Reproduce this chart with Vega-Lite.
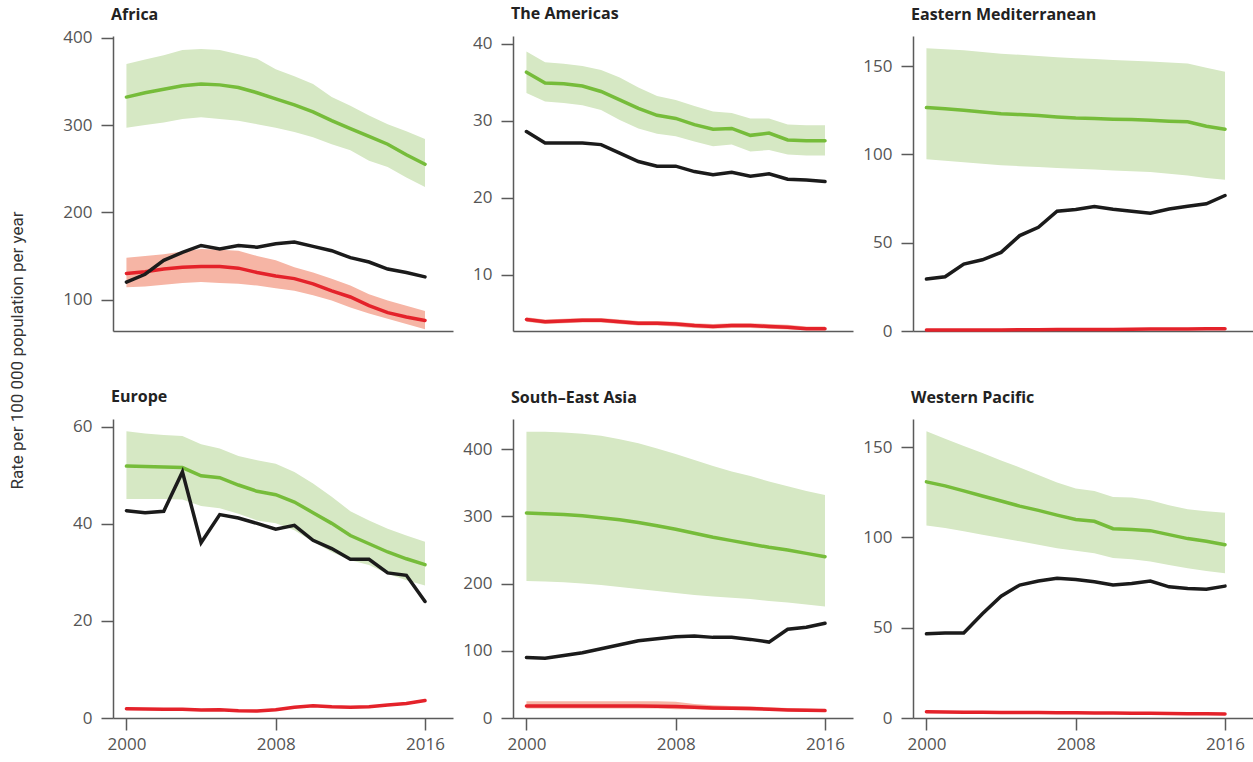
{
  "$schema": "https://vega.github.io/schema/vega-lite/v6.json",
  "padding": {"left": 8, "top": 5, "right": 0, "bottom": 6},
  "background": "white",
  "data": {"values": [
    {"region":"Africa","year":2000,"g":332,"glo":297,"ghi":370,"b":120,"r":130,"rlo":114,"rhi":148},
    {"region":"Africa","year":2001,"g":337,"glo":300,"ghi":375,"b":129,"r":132,"rlo":115,"rhi":150},
    {"region":"Africa","year":2002,"g":341,"glo":303,"ghi":380,"b":145,"r":135,"rlo":117,"rhi":152},
    {"region":"Africa","year":2003,"g":345,"glo":307,"ghi":386,"b":154,"r":137,"rlo":119,"rhi":155},
    {"region":"Africa","year":2004,"g":347,"glo":309,"ghi":387,"b":162,"r":138,"rlo":120,"rhi":158},
    {"region":"Africa","year":2005,"g":346,"glo":307,"ghi":386,"b":158,"r":138,"rlo":119,"rhi":157},
    {"region":"Africa","year":2006,"g":343,"glo":305,"ghi":381,"b":162,"r":136,"rlo":118,"rhi":156},
    {"region":"Africa","year":2007,"g":337,"glo":301,"ghi":376,"b":160,"r":131,"rlo":116,"rhi":150},
    {"region":"Africa","year":2008,"g":330,"glo":297,"ghi":364,"b":164,"r":127,"rlo":113,"rhi":145},
    {"region":"Africa","year":2009,"g":323,"glo":292,"ghi":356,"b":166,"r":124,"rlo":110,"rhi":137},
    {"region":"Africa","year":2010,"g":315,"glo":286,"ghi":347,"b":161,"r":118,"rlo":105,"rhi":131},
    {"region":"Africa","year":2011,"g":305,"glo":278,"ghi":332,"b":156,"r":110,"rlo":99,"rhi":124},
    {"region":"Africa","year":2012,"g":296,"glo":271,"ghi":322,"b":148,"r":103,"rlo":91,"rhi":116},
    {"region":"Africa","year":2013,"g":287,"glo":259,"ghi":311,"b":143,"r":93,"rlo":84,"rhi":106},
    {"region":"Africa","year":2014,"g":278,"glo":252,"ghi":301,"b":135,"r":85,"rlo":78,"rhi":99},
    {"region":"Africa","year":2015,"g":266,"glo":240,"ghi":293,"b":131,"r":80,"rlo":72,"rhi":93},
    {"region":"Africa","year":2016,"g":255,"glo":229,"ghi":284,"b":126,"r":76,"rlo":66,"rhi":87},

    {"region":"The Americas","year":2000,"g":36.3,"glo":33.6,"ghi":39.0,"b":28.6,"r":4.2,"rlo":3.9,"rhi":4.5},
    {"region":"The Americas","year":2001,"g":34.9,"glo":32.5,"ghi":37.6,"b":27.1,"r":3.9,"rlo":3.6,"rhi":4.2},
    {"region":"The Americas","year":2002,"g":34.8,"glo":32.3,"ghi":37.4,"b":27.1,"r":4.0,"rlo":3.7,"rhi":4.3},
    {"region":"The Americas","year":2003,"g":34.5,"glo":32.0,"ghi":37.1,"b":27.1,"r":4.1,"rlo":3.8,"rhi":4.4},
    {"region":"The Americas","year":2004,"g":33.8,"glo":31.4,"ghi":36.6,"b":26.9,"r":4.1,"rlo":3.8,"rhi":4.4},
    {"region":"The Americas","year":2005,"g":32.7,"glo":30.1,"ghi":35.6,"b":25.8,"r":3.9,"rlo":3.6,"rhi":4.2},
    {"region":"The Americas","year":2006,"g":31.6,"glo":29.0,"ghi":34.3,"b":24.7,"r":3.7,"rlo":3.4,"rhi":4.0},
    {"region":"The Americas","year":2007,"g":30.7,"glo":28.3,"ghi":33.2,"b":24.1,"r":3.7,"rlo":3.4,"rhi":4.0},
    {"region":"The Americas","year":2008,"g":30.3,"glo":28.0,"ghi":32.7,"b":24.1,"r":3.6,"rlo":3.3,"rhi":3.9},
    {"region":"The Americas","year":2009,"g":29.5,"glo":27.3,"ghi":31.9,"b":23.4,"r":3.4,"rlo":3.1,"rhi":3.7},
    {"region":"The Americas","year":2010,"g":28.9,"glo":26.7,"ghi":31.2,"b":23.0,"r":3.3,"rlo":3.0,"rhi":3.6},
    {"region":"The Americas","year":2011,"g":29.0,"glo":26.9,"ghi":31.0,"b":23.3,"r":3.4,"rlo":3.1,"rhi":3.7},
    {"region":"The Americas","year":2012,"g":28.1,"glo":26.0,"ghi":30.3,"b":22.8,"r":3.4,"rlo":3.1,"rhi":3.7},
    {"region":"The Americas","year":2013,"g":28.4,"glo":26.2,"ghi":30.3,"b":23.1,"r":3.3,"rlo":3.0,"rhi":3.6},
    {"region":"The Americas","year":2014,"g":27.5,"glo":25.6,"ghi":29.5,"b":22.4,"r":3.2,"rlo":2.9,"rhi":3.5},
    {"region":"The Americas","year":2015,"g":27.4,"glo":25.5,"ghi":29.4,"b":22.3,"r":3.0,"rlo":2.8,"rhi":3.3},
    {"region":"The Americas","year":2016,"g":27.4,"glo":25.5,"ghi":29.4,"b":22.1,"r":3.0,"rlo":2.8,"rhi":3.3},

    {"region":"Eastern Mediterranean","year":2000,"g":126.5,"glo":97.2,"ghi":160,"b":29.4,"r":0.5,"rlo":0.2,"rhi":0.8},
    {"region":"Eastern Mediterranean","year":2001,"g":125.8,"glo":96.4,"ghi":159.5,"b":30.7,"r":0.5,"rlo":0.2,"rhi":0.8},
    {"region":"Eastern Mediterranean","year":2002,"g":125,"glo":95.6,"ghi":159,"b":37.9,"r":0.5,"rlo":0.2,"rhi":0.8},
    {"region":"Eastern Mediterranean","year":2003,"g":124,"glo":94.7,"ghi":158,"b":40.3,"r":0.6,"rlo":0.3,"rhi":0.9},
    {"region":"Eastern Mediterranean","year":2004,"g":123,"glo":93.8,"ghi":157,"b":44.5,"r":0.6,"rlo":0.3,"rhi":0.9},
    {"region":"Eastern Mediterranean","year":2005,"g":122.5,"glo":93.3,"ghi":156.4,"b":54,"r":0.7,"rlo":0.4,"rhi":1.0},
    {"region":"Eastern Mediterranean","year":2006,"g":122,"glo":92.8,"ghi":155.7,"b":58.7,"r":0.7,"rlo":0.4,"rhi":1.0},
    {"region":"Eastern Mediterranean","year":2007,"g":121.2,"glo":92.3,"ghi":155,"b":67.8,"r":0.8,"rlo":0.5,"rhi":1.1},
    {"region":"Eastern Mediterranean","year":2008,"g":120.6,"glo":91.9,"ghi":154.4,"b":68.8,"r":0.8,"rlo":0.5,"rhi":1.1},
    {"region":"Eastern Mediterranean","year":2009,"g":120.3,"glo":91.4,"ghi":154,"b":70.5,"r":0.9,"rlo":0.6,"rhi":1.2},
    {"region":"Eastern Mediterranean","year":2010,"g":119.9,"glo":90.9,"ghi":153.4,"b":68.9,"r":0.9,"rlo":0.6,"rhi":1.2},
    {"region":"Eastern Mediterranean","year":2011,"g":119.7,"glo":90.5,"ghi":153,"b":67.8,"r":1.0,"rlo":0.7,"rhi":1.3},
    {"region":"Eastern Mediterranean","year":2012,"g":119.3,"glo":90,"ghi":152.5,"b":66.7,"r":1.1,"rlo":0.8,"rhi":1.4},
    {"region":"Eastern Mediterranean","year":2013,"g":118.8,"glo":89,"ghi":152,"b":69.1,"r":1.2,"rlo":0.9,"rhi":1.5},
    {"region":"Eastern Mediterranean","year":2014,"g":118.4,"glo":88,"ghi":151.5,"b":70.6,"r":1.2,"rlo":0.9,"rhi":1.5},
    {"region":"Eastern Mediterranean","year":2015,"g":115.9,"glo":86.6,"ghi":149,"b":72,"r":1.3,"rlo":1.0,"rhi":1.6},
    {"region":"Eastern Mediterranean","year":2016,"g":114.2,"glo":85.6,"ghi":146.8,"b":76.7,"r":1.3,"rlo":1.0,"rhi":1.6},

    {"region":"Europe","year":2000,"g":51.9,"glo":45.1,"ghi":59.1,"b":42.7,"r":1.9,"rlo":1.7,"rhi":2.1},
    {"region":"Europe","year":2001,"g":51.8,"glo":45.1,"ghi":58.6,"b":42.3,"r":1.85,"rlo":1.65,"rhi":2.05},
    {"region":"Europe","year":2002,"g":51.7,"glo":45.1,"ghi":58.3,"b":42.6,"r":1.8,"rlo":1.6,"rhi":2.0},
    {"region":"Europe","year":2003,"g":51.6,"glo":45.0,"ghi":58.1,"b":50.7,"r":1.8,"rlo":1.6,"rhi":2.0},
    {"region":"Europe","year":2004,"g":49.9,"glo":43.7,"ghi":56.4,"b":36.1,"r":1.65,"rlo":1.45,"rhi":1.85},
    {"region":"Europe","year":2005,"g":49.5,"glo":43.2,"ghi":55.5,"b":41.9,"r":1.7,"rlo":1.5,"rhi":1.9},
    {"region":"Europe","year":2006,"g":48.0,"glo":42.1,"ghi":54.0,"b":41.2,"r":1.5,"rlo":1.3,"rhi":1.7},
    {"region":"Europe","year":2007,"g":46.7,"glo":40.7,"ghi":53.1,"b":40.1,"r":1.45,"rlo":1.25,"rhi":1.65},
    {"region":"Europe","year":2008,"g":46.0,"glo":40.1,"ghi":52.4,"b":38.9,"r":1.7,"rlo":1.5,"rhi":1.9},
    {"region":"Europe","year":2009,"g":44.5,"glo":38.7,"ghi":50.7,"b":39.7,"r":2.2,"rlo":2.0,"rhi":2.4},
    {"region":"Europe","year":2010,"g":42.3,"glo":36.3,"ghi":48.3,"b":36.6,"r":2.5,"rlo":2.3,"rhi":2.7},
    {"region":"Europe","year":2011,"g":40.1,"glo":34.2,"ghi":45.6,"b":34.9,"r":2.3,"rlo":2.1,"rhi":2.5},
    {"region":"Europe","year":2012,"g":37.6,"glo":32.5,"ghi":42.6,"b":32.7,"r":2.2,"rlo":2.0,"rhi":2.4},
    {"region":"Europe","year":2013,"g":35.9,"glo":31.5,"ghi":40.7,"b":32.7,"r":2.3,"rlo":2.1,"rhi":2.5},
    {"region":"Europe","year":2014,"g":34.2,"glo":29.7,"ghi":39.0,"b":29.9,"r":2.7,"rlo":2.5,"rhi":2.9},
    {"region":"Europe","year":2015,"g":32.8,"glo":28.4,"ghi":37.6,"b":29.4,"r":3.0,"rlo":2.8,"rhi":3.2},
    {"region":"Europe","year":2016,"g":31.6,"glo":27.3,"ghi":36.3,"b":24.0,"r":3.6,"rlo":3.4,"rhi":3.8},

    {"region":"South–East Asia","year":2000,"g":305,"glo":204,"ghi":426,"b":90,"r":18,"rlo":14,"rhi":25},
    {"region":"South–East Asia","year":2001,"g":304,"glo":203,"ghi":426,"b":89,"r":18,"rlo":14,"rhi":25},
    {"region":"South–East Asia","year":2002,"g":303,"glo":202,"ghi":425,"b":93,"r":18,"rlo":14,"rhi":25},
    {"region":"South–East Asia","year":2003,"g":301,"glo":200,"ghi":423,"b":97,"r":18,"rlo":14,"rhi":25},
    {"region":"South–East Asia","year":2004,"g":298,"glo":198,"ghi":420,"b":103,"r":18,"rlo":14,"rhi":25},
    {"region":"South–East Asia","year":2005,"g":295,"glo":195,"ghi":415,"b":109,"r":18,"rlo":14,"rhi":25},
    {"region":"South–East Asia","year":2006,"g":291,"glo":192,"ghi":409,"b":115,"r":18,"rlo":14,"rhi":25},
    {"region":"South–East Asia","year":2007,"g":286,"glo":189,"ghi":401,"b":118,"r":17.5,"rlo":14,"rhi":25},
    {"region":"South–East Asia","year":2008,"g":281,"glo":186,"ghi":393,"b":121,"r":17,"rlo":13,"rhi":24},
    {"region":"South–East Asia","year":2009,"g":275,"glo":183,"ghi":384,"b":122,"r":16,"rlo":13,"rhi":21},
    {"region":"South–East Asia","year":2010,"g":269,"glo":181,"ghi":375,"b":120,"r":15,"rlo":12,"rhi":19},
    {"region":"South–East Asia","year":2011,"g":264,"glo":179,"ghi":367,"b":120,"r":14.5,"rlo":12,"rhi":18},
    {"region":"South–East Asia","year":2012,"g":259,"glo":177,"ghi":360,"b":117,"r":14,"rlo":11,"rhi":17},
    {"region":"South–East Asia","year":2013,"g":254,"glo":174,"ghi":352,"b":113,"r":13,"rlo":11,"rhi":16},
    {"region":"South–East Asia","year":2014,"g":250,"glo":172,"ghi":345,"b":132,"r":12,"rlo":10,"rhi":15},
    {"region":"South–East Asia","year":2015,"g":245,"glo":169,"ghi":338,"b":135,"r":11.5,"rlo":9,"rhi":14},
    {"region":"South–East Asia","year":2016,"g":240,"glo":166,"ghi":332,"b":141,"r":11,"rlo":9,"rhi":13},

    {"region":"Western Pacific","year":2000,"g":130.7,"glo":106.5,"ghi":158.7,"b":46.6,"r":3.4,"rlo":3.1,"rhi":3.7},
    {"region":"Western Pacific","year":2001,"g":128.5,"glo":105.2,"ghi":154.6,"b":47.1,"r":3.3,"rlo":3.0,"rhi":3.6},
    {"region":"Western Pacific","year":2002,"g":125.7,"glo":103.4,"ghi":150.5,"b":47.1,"r":3.2,"rlo":2.9,"rhi":3.5},
    {"region":"Western Pacific","year":2003,"g":122.9,"glo":101.5,"ghi":146.7,"b":57.7,"r":3.2,"rlo":2.9,"rhi":3.5},
    {"region":"Western Pacific","year":2004,"g":120.1,"glo":99.6,"ghi":142.5,"b":67.4,"r":3.1,"rlo":2.8,"rhi":3.4},
    {"region":"Western Pacific","year":2005,"g":117.3,"glo":97.8,"ghi":138.7,"b":73.6,"r":3.0,"rlo":2.7,"rhi":3.3},
    {"region":"Western Pacific","year":2006,"g":114.9,"glo":95.9,"ghi":134.5,"b":75.8,"r":3.0,"rlo":2.7,"rhi":3.3},
    {"region":"Western Pacific","year":2007,"g":112.3,"glo":94.0,"ghi":130.4,"b":77.3,"r":2.9,"rlo":2.6,"rhi":3.2},
    {"region":"Western Pacific","year":2008,"g":109.9,"glo":92.6,"ghi":127.0,"b":76.7,"r":2.9,"rlo":2.6,"rhi":3.2},
    {"region":"Western Pacific","year":2009,"g":108.9,"glo":91.2,"ghi":125.7,"b":75.4,"r":2.8,"rlo":2.5,"rhi":3.1},
    {"region":"Western Pacific","year":2010,"g":104.8,"glo":88.5,"ghi":122.3,"b":73.6,"r":2.7,"rlo":2.4,"rhi":3.0},
    {"region":"Western Pacific","year":2011,"g":104.3,"glo":87.9,"ghi":122.0,"b":74.5,"r":2.6,"rlo":2.3,"rhi":2.9},
    {"region":"Western Pacific","year":2012,"g":103.7,"glo":86.6,"ghi":120.5,"b":75.8,"r":2.6,"rlo":2.3,"rhi":2.9},
    {"region":"Western Pacific","year":2013,"g":101.5,"glo":84.7,"ghi":117.7,"b":72.6,"r":2.5,"rlo":2.2,"rhi":2.8},
    {"region":"Western Pacific","year":2014,"g":99.3,"glo":82.9,"ghi":115.5,"b":71.7,"r":2.4,"rlo":2.1,"rhi":2.7},
    {"region":"Western Pacific","year":2015,"g":97.8,"glo":81.4,"ghi":114.5,"b":71.3,"r":2.3,"rlo":2.0,"rhi":2.6},
    {"region":"Western Pacific","year":2016,"g":95.9,"glo":80.1,"ghi":113.6,"b":73.0,"r":2.2,"rlo":1.9,"rhi":2.5}
  ]},
  "spacing": 27,
  "hconcat": [
    {
      "width": 1, "height": 628,
      "mark": {"type": "point", "opacity": 0},
      "encoding": {"y": {"field": "g", "type": "quantitative", "title": "Rate per 100 000 population per year", "axis": {"domain": false, "ticks": false, "labels": false, "minExtent": 0, "maxExtent": 0, "titlePadding": 4, "titleFont": "Roboto", "titleFontSize": 17, "titleFontWeight": "normal", "titleColor": "#333333"}}}
    },
    {
      "spacing": 49,
      "vconcat": [
        {
          "spacing": 8,
          "hconcat": [
            {
              "title": {"text": "Africa", "offset": 6},
              "width": 340, "height": 295,
              "transform": [{"filter": "datum.region === 'Africa'"}],
              "encoding": {"x": {"field": "year", "type": "quantitative", "title": null, "scale": {"domain": [1999.28, 2017.5], "nice": false, "zero": false}, "axis": {"labels": false, "ticks": false}}},
              "layer": [
                {"mark": {"type": "area", "color": "#d6e8c4", "opacity": 1}, "encoding": {"y": {"field": "glo", "type": "quantitative", "title": null, "scale": {"domain": [64, 402], "nice": false, "zero": false}, "axis": {"values": [100, 200, 300, 400]}}, "y2": {"field": "ghi"}}},
                {"mark": {"type": "area", "color": "#f6b5a5", "opacity": 1}, "encoding": {"y": {"field": "rlo", "type": "quantitative", "title": null}, "y2": {"field": "rhi"}}},
                {"mark": {"type": "line", "color": "#76bc3a", "strokeWidth": 3.5, "strokeCap": "round"}, "encoding": {"y": {"field": "g", "type": "quantitative", "title": null}}},
                {"mark": {"type": "line", "color": "#e4222a", "strokeWidth": 3.5, "strokeCap": "round"}, "encoding": {"y": {"field": "r", "type": "quantitative", "title": null}}},
                {"mark": {"type": "line", "color": "#1b1b1b", "strokeWidth": 3.5, "strokeCap": "round"}, "encoding": {"y": {"field": "b", "type": "quantitative", "title": null}}}
              ]
            },
            {
              "title": {"text": "The Americas", "offset": 13},
              "width": 340, "height": 295,
              "transform": [{"filter": "datum.region === 'The Americas'"}],
              "encoding": {"x": {"field": "year", "type": "quantitative", "title": null, "scale": {"domain": [1999.28, 2017.5], "nice": false, "zero": false}, "axis": {"labels": false, "ticks": false}}},
              "layer": [
                {"mark": {"type": "area", "color": "#d6e8c4", "opacity": 1}, "encoding": {"y": {"field": "glo", "type": "quantitative", "title": null, "scale": {"domain": [2.7, 41], "nice": false, "zero": false}, "axis": {"values": [10, 20, 30, 40]}}, "y2": {"field": "ghi"}}},
                {"mark": {"type": "area", "color": "#f6b5a5", "opacity": 1}, "encoding": {"y": {"field": "rlo", "type": "quantitative", "title": null}, "y2": {"field": "rhi"}}},
                {"mark": {"type": "line", "color": "#76bc3a", "strokeWidth": 3.5, "strokeCap": "round"}, "encoding": {"y": {"field": "g", "type": "quantitative", "title": null}}},
                {"mark": {"type": "line", "color": "#e4222a", "strokeWidth": 3.5, "strokeCap": "round"}, "encoding": {"y": {"field": "r", "type": "quantitative", "title": null}}},
                {"mark": {"type": "line", "color": "#1b1b1b", "strokeWidth": 3.5, "strokeCap": "round"}, "encoding": {"y": {"field": "b", "type": "quantitative", "title": null}}}
              ]
            },
            {
              "title": {"text": "Eastern Mediterranean", "offset": 13},
              "width": 340, "height": 295,
              "transform": [{"filter": "datum.region === 'Eastern Mediterranean'"}],
              "encoding": {"x": {"field": "year", "type": "quantitative", "title": null, "scale": {"domain": [1999.28, 2017.5], "nice": false, "zero": false}, "axis": {"labels": false, "ticks": false}}},
              "layer": [
                {"mark": {"type": "area", "color": "#d6e8c4", "opacity": 1}, "encoding": {"y": {"field": "glo", "type": "quantitative", "title": null, "scale": {"domain": [0, 167], "nice": false, "zero": false}, "axis": {"values": [0, 50, 100, 150]}}, "y2": {"field": "ghi"}}},
                {"mark": {"type": "area", "color": "#f6b5a5", "opacity": 1}, "encoding": {"y": {"field": "rlo", "type": "quantitative", "title": null}, "y2": {"field": "rhi"}}},
                {"mark": {"type": "line", "color": "#76bc3a", "strokeWidth": 3.5, "strokeCap": "round"}, "encoding": {"y": {"field": "g", "type": "quantitative", "title": null}}},
                {"mark": {"type": "line", "color": "#e4222a", "strokeWidth": 3.5, "strokeCap": "round"}, "encoding": {"y": {"field": "r", "type": "quantitative", "title": null}}},
                {"mark": {"type": "line", "color": "#1b1b1b", "strokeWidth": 3.5, "strokeCap": "round"}, "encoding": {"y": {"field": "b", "type": "quantitative", "title": null}}}
              ]
            }
          ]
        },
        {
          "spacing": 8,
          "hconcat": [
            {
              "title": {"text": "Europe", "offset": 13},
              "width": 340, "height": 299,
              "transform": [{"filter": "datum.region === 'Europe'"}],
              "encoding": {"x": {"field": "year", "type": "quantitative", "title": null, "scale": {"domain": [1999.28, 2017.5], "nice": false, "zero": false}, "axis": {"values": [2000, 2008, 2016], "format": "d"}}},
              "layer": [
                {"mark": {"type": "area", "color": "#d6e8c4", "opacity": 1}, "encoding": {"y": {"field": "glo", "type": "quantitative", "title": null, "scale": {"domain": [0, 61.6], "nice": false, "zero": false}, "axis": {"values": [0, 20, 40, 60]}}, "y2": {"field": "ghi"}}},
                {"mark": {"type": "area", "color": "#f6b5a5", "opacity": 1}, "encoding": {"y": {"field": "rlo", "type": "quantitative", "title": null}, "y2": {"field": "rhi"}}},
                {"mark": {"type": "line", "color": "#76bc3a", "strokeWidth": 3.5, "strokeCap": "round"}, "encoding": {"y": {"field": "g", "type": "quantitative", "title": null}}},
                {"mark": {"type": "line", "color": "#e4222a", "strokeWidth": 3.5, "strokeCap": "round"}, "encoding": {"y": {"field": "r", "type": "quantitative", "title": null}}},
                {"mark": {"type": "line", "color": "#1b1b1b", "strokeWidth": 3.5, "strokeCap": "round"}, "encoding": {"y": {"field": "b", "type": "quantitative", "title": null}}}
              ]
            },
            {
              "title": {"text": "South–East Asia", "offset": 13},
              "width": 340, "height": 299,
              "transform": [{"filter": "datum.region === 'South–East Asia'"}],
              "encoding": {"x": {"field": "year", "type": "quantitative", "title": null, "scale": {"domain": [1999.28, 2017.5], "nice": false, "zero": false}, "axis": {"values": [2000, 2008, 2016], "format": "d"}}},
              "layer": [
                {"mark": {"type": "area", "color": "#d6e8c4", "opacity": 1}, "encoding": {"y": {"field": "glo", "type": "quantitative", "title": null, "scale": {"domain": [0, 445], "nice": false, "zero": false}, "axis": {"values": [0, 100, 200, 300, 400]}}, "y2": {"field": "ghi"}}},
                {"mark": {"type": "area", "color": "#f6b5a5", "opacity": 1}, "encoding": {"y": {"field": "rlo", "type": "quantitative", "title": null}, "y2": {"field": "rhi"}}},
                {"mark": {"type": "line", "color": "#76bc3a", "strokeWidth": 3.5, "strokeCap": "round"}, "encoding": {"y": {"field": "g", "type": "quantitative", "title": null}}},
                {"mark": {"type": "line", "color": "#e4222a", "strokeWidth": 3.5, "strokeCap": "round"}, "encoding": {"y": {"field": "r", "type": "quantitative", "title": null}}},
                {"mark": {"type": "line", "color": "#1b1b1b", "strokeWidth": 3.5, "strokeCap": "round"}, "encoding": {"y": {"field": "b", "type": "quantitative", "title": null}}}
              ]
            },
            {
              "title": {"text": "Western Pacific", "offset": 13},
              "width": 340, "height": 299,
              "transform": [{"filter": "datum.region === 'Western Pacific'"}],
              "encoding": {"x": {"field": "year", "type": "quantitative", "title": null, "scale": {"domain": [1999.28, 2017.5], "nice": false, "zero": false}, "axis": {"values": [2000, 2008, 2016], "format": "d"}}},
              "layer": [
                {"mark": {"type": "area", "color": "#d6e8c4", "opacity": 1}, "encoding": {"y": {"field": "glo", "type": "quantitative", "title": null, "scale": {"domain": [0, 165.5], "nice": false, "zero": false}, "axis": {"values": [0, 50, 100, 150]}}, "y2": {"field": "ghi"}}},
                {"mark": {"type": "area", "color": "#f6b5a5", "opacity": 1}, "encoding": {"y": {"field": "rlo", "type": "quantitative", "title": null}, "y2": {"field": "rhi"}}},
                {"mark": {"type": "line", "color": "#76bc3a", "strokeWidth": 3.5, "strokeCap": "round"}, "encoding": {"y": {"field": "g", "type": "quantitative", "title": null}}},
                {"mark": {"type": "line", "color": "#e4222a", "strokeWidth": 3.5, "strokeCap": "round"}, "encoding": {"y": {"field": "r", "type": "quantitative", "title": null}}},
                {"mark": {"type": "line", "color": "#1b1b1b", "strokeWidth": 3.5, "strokeCap": "round"}, "encoding": {"y": {"field": "b", "type": "quantitative", "title": null}}}
              ]
            }
          ]
        }
      ]
    }
  ],
  "config": {
    "view": {"stroke": null},
    "axis": {"grid": false, "domainColor": "#5a5a5a", "tickColor": "#5a5a5a", "domainWidth": 1.5, "tickWidth": 1.5, "labelColor": "#555555", "labelFont": "Open Sans", "labelFontSize": 17},
    "axisY": {"tickSize": 12, "labelPadding": 9, "minExtent": 52, "maxExtent": 52},
    "axisX": {"tickSize": 12, "labelPadding": 6},
    "title": {"font": "Open Sans", "fontSize": 16, "fontWeight": "bold", "color": "#222222", "anchor": "start", "frame": "group", "dx": -2}
  }
}
